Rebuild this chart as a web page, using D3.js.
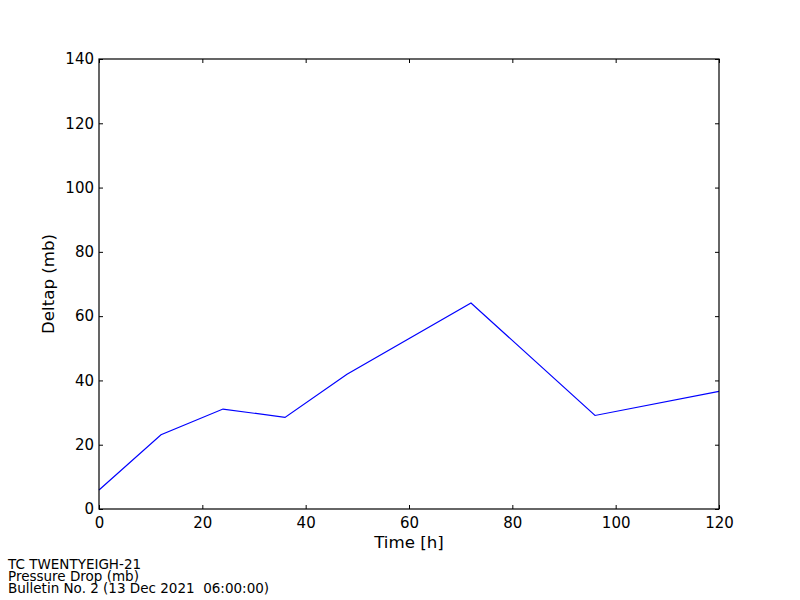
<!DOCTYPE html>
<html><head><meta charset="utf-8">
<script src="https://cdn.jsdelivr.net/npm/d3@7"></script>
<style>body{margin:0;background:#fff}text{font-family:"DejaVu Sans",sans-serif}</style>
</head><body>
<svg id="c" width="800" height="600"></svg>
<script>
const times = [0, 12, 24, 36, 48, 72, 96, 120];
const deltap = [5.9, 23.1, 31.1, 28.5, 41.9, 64.1, 29.1, 36.6];
const xTicks = [0, 20, 40, 60, 80, 100, 120];
const yTicks = [0, 20, 40, 60, 80, 100, 120, 140];
const footer = ["TC TWENTYEIGH-21", "Pressure Drop (mb)", "Bulletin No. 2 (13 Dec 2021  06:00:00)"];

const svg = d3.select("#c");
const L = 99, R = 719, T = 59, B = 509;
const x = d3.scaleLinear().domain([0, 120]).range([L, R]);
const y = d3.scaleLinear().domain([0, 140]).range([B, T]);

const g = svg.append("g");
const fs = "15px";
const axBottom = g.append("g").attr("transform", `translate(0,${B})`)
  .call(d3.axisBottom(x).tickValues(xTicks).tickSizeInner(-4).tickSizeOuter(0).tickPadding(8));
const axTop = g.append("g").attr("transform", `translate(0,${T})`)
  .call(d3.axisTop(x).tickValues(xTicks).tickSizeInner(-4).tickSizeOuter(0).tickFormat(""));
const axLeft = g.append("g").attr("transform", `translate(${L},0)`)
  .call(d3.axisLeft(y).tickValues(yTicks).tickSizeInner(-4).tickSizeOuter(0).tickPadding(5));
const axRight = g.append("g").attr("transform", `translate(${R},0)`)
  .call(d3.axisRight(y).tickValues(yTicks).tickSizeInner(-4).tickSizeOuter(0).tickFormat(""));
[axBottom, axTop, axLeft, axRight].forEach(a => {
  a.select(".domain").remove();
  a.selectAll("text").attr("font-size", fs).attr("fill", "#000").style("font-family", "DejaVu Sans");
  a.selectAll("line").attr("stroke", "#000");
});

const line = d3.line().x((d, i) => x(times[i])).y(d => y(d));
g.append("path").datum(deltap).attr("d", line)
  .attr("fill", "none").attr("stroke", "#0000ff").attr("stroke-width", 1.2);

g.append("rect").attr("x", L).attr("y", T).attr("width", R - L).attr("height", B - T)
  .attr("fill", "none").attr("stroke", "#000").attr("stroke-width", 1.2);

svg.append("text").attr("x", (L + R) / 2).attr("y", 548).attr("text-anchor", "middle")
  .attr("font-size", "16.67px").text("Time [h]");
svg.append("text").attr("transform", `translate(54,${(T + B) / 2}) rotate(-90)`)
  .attr("text-anchor", "middle").attr("font-size", "16.67px").text("Deltap (mb)");

svg.selectAll(".ft").data(footer).enter().append("text").attr("class", "ft")
  .attr("x", 8).attr("y", (d, i) => 569 + i * 11.8).attr("font-size", "13.5px")
  .style("white-space", "pre").attr("xml:space", "preserve").text(d => d);
</script>
</body></html>
